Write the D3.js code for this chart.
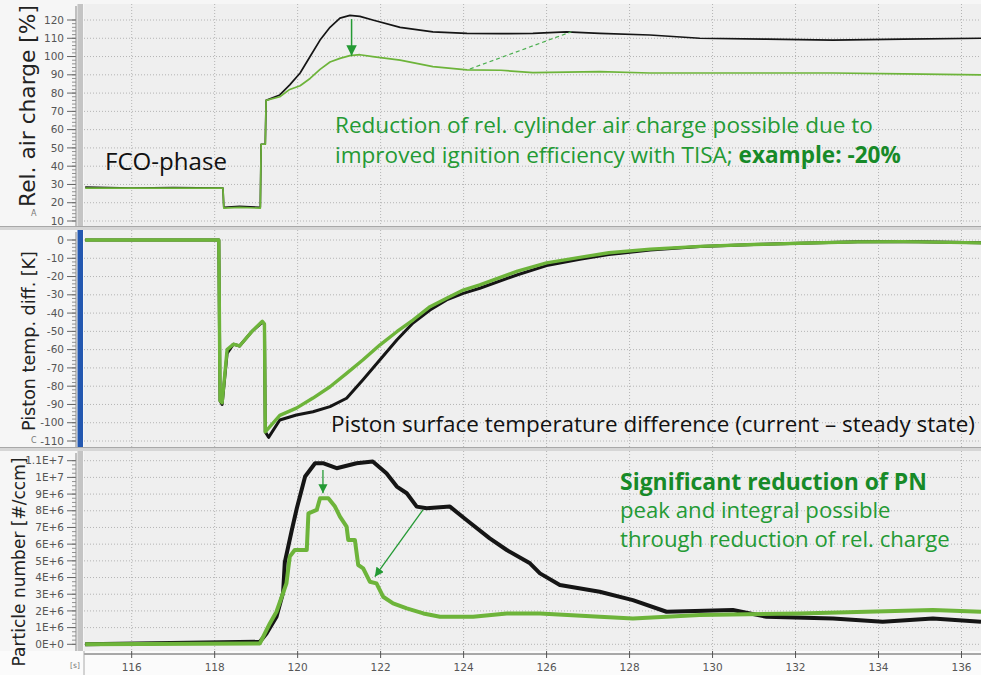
<!DOCTYPE html>
<html><head><meta charset="utf-8">
<script src="https://cdn.jsdelivr.net/npm/d3@7"></script>
<style>body{margin:0;background:#fff}svg{display:block}</style>
</head><body>
<svg width="981" height="675"></svg>
<script>
// time axis [s]
const xTicks = [116,118,120,122,124,126,128,130,132,134,136];

// rel. air charge [%] - baseline (black) and TISA (green)
const chargeTime = [114.88,116,117,118.2,118.22,118.6,119.1,119.12,119.22,119.24,119.57,119.81,120.06,120.3,120.54,120.78,121.02,121.26,121.5,121.81,122.47,123.26,124.08,124.9,125.67,126.48,127.28,128.49,129.69,131.3,132.9,134.6,136.47];
const chargeBase = [28.5,28,28.3,28,17.5,18,17.5,52,52,76,79,84.5,91,100,109,116,121,122.5,122,120,116,113.5,112.7,112.5,112.7,113.5,112.7,111.8,110,109.5,109,109.5,110];
const chargeTisa = [28,28,28,28,17,17.5,17,52,52,76,78,82,84,88,93,97,99,100.5,101,100,98,94.5,92.7,92.5,91.2,91.5,91.8,91,91,91,91,90.5,90];
const chargeTicks = [10,20,30,40,50,60,70,80,90,100,110,120];

// piston surface temperature difference [K]
const pistonTime = [114.88,118.1,118.13,118.18,118.3,118.45,118.6,118.9,119.15,119.2,119.22,119.3,119.57,119.97,120.37,120.78,121.18,121.57,121.98,122.39,122.78,123.19,123.59,123.99,124.39,125.3,126,126.8,127.5,128.5,129.7,131,132.1,133.5,134.6,136.47];
const pistonBase = [0,0,-88,-90,-62,-57,-58,-50,-45,-46,-105,-108,-98.5,-95.8,-94,-91.2,-86.6,-76.6,-65.7,-54.7,-45.4,-38.3,-32.8,-29.2,-26.4,-19,-14,-10.5,-8,-5.5,-3.5,-2.5,-1.8,-1,-0.8,-1.5];
const pistonTisa = [0,0,-88,-89,-60,-57,-58,-50,-44.5,-46,-105,-103,-96,-92,-86.5,-80.3,-73,-65.7,-57.5,-50.2,-43.8,-36.5,-31.9,-27.4,-24.6,-17,-12.5,-9.5,-7,-5,-3.5,-2.5,-1.8,-1,-0.9,-1.6];
const pistonTicks = [0,-10,-20,-30,-40,-50,-60,-70,-80,-90,-100,-110];

// particle number [#/ccm]
const pnBaseTime = [114.88,119.09,119.25,119.49,119.65,119.69,119.86,119.98,120.18,120.42,120.61,120.94,121.42,121.81,122.14,122.39,122.63,122.87,123.11,123.67,124.07,124.63,125.04,125.6,125.84,126.32,127.28,128.08,128.89,130.49,131.3,132.9,134.1,135.31,136.47];
const pnBase = [0,0.15e6,0.65e6,1.65e6,3.1e6,4.9e6,6.85e6,8.15e6,10.05e6,10.85e6,10.85e6,10.55e6,10.85e6,10.95e6,10.25e6,9.45e6,9.05e6,8.25e6,8.15e6,8.25e6,7.45e6,6.35e6,5.65e6,4.85e6,4.25e6,3.55e6,3.15e6,2.65e6,1.95e6,2.05e6,1.65e6,1.55e6,1.35e6,1.55e6,1.35e6];
const pnTisaTime = [114.88,119.09,119.33,119.49,119.73,119.81,119.93,120.22,120.26,120.46,120.54,120.74,120.9,121.02,121.18,121.22,121.38,121.46,121.58,121.74,121.9,122.06,122.3,122.63,123.03,123.43,124.23,125.04,125.84,127.28,128.08,129.69,132.1,133.71,135.31,136.47];
const pnTisa = [0,0.05e6,1.25e6,1.95e6,3.65e6,5.25e6,5.65e6,5.65e6,7.85e6,8.05e6,8.75e6,8.75e6,8.25e6,7.65e6,7.05e6,6.25e6,6.25e6,4.75e6,4.55e6,3.75e6,3.65e6,2.85e6,2.45e6,2.15e6,1.85e6,1.65e6,1.65e6,1.85e6,1.85e6,1.65e6,1.55e6,1.75e6,1.85e6,1.95e6,2.05e6,1.95e6];
const pnTicks = [0,1e6,2e6,3e6,4e6,5e6,6e6,7e6,8e6,9e6,1e7,1.1e7];
const pnTickLabels = ["0E+0","1E+6","2E+6","3E+6","4E+6","5E+6","6E+6","7E+6","8E+6","9E+6","1E+7","1.1E+7"];

const svg = d3.select("svg");
const BLACK = "#151515", LIME = "#6db43a", GREEN = "#249a34", DKGREEN = "#178a28";
const axisFont = "DejaVu Sans", noteFont = "Open Sans";

const x = d3.scaleLinear().domain([114.875,136.47]).range([85,981]);

const panels = [
  {top:4, bottom:226, y:d3.scaleLinear().domain([10,120]).range([221,20]),
   ticks:chargeTicks, labels:chargeTicks.map(String), minor:2,
   bar:"#c4c4c4", title:"Rel. air charge [%]", tx:27, ty:106, tlen:202, tag:"A", tagY:216,
   series:[{t:chargeTime,v:chargeBase,c:BLACK,w:1.7},{t:chargeTime,v:chargeTisa,c:LIME,w:1.7}]},
  {top:230, bottom:447, y:d3.scaleLinear().domain([-110,0]).range([441,240]),
   ticks:pistonTicks, labels:pistonTicks.map(String), minor:2,
   bar:"#2458b0", title:"Piston temp. diff. [K]", tx:29, ty:341, tlen:180, tag:"C", tagY:443,
   series:[{t:pistonTime,v:pistonBase,c:BLACK,w:3},{t:pistonTime,v:pistonTisa,c:LIME,w:3.4}]},
  {top:451, bottom:651, y:d3.scaleLinear().domain([0,1.1e7]).range([644.3,460.7]),
   ticks:pnTicks, labels:pnTickLabels, minor:0.25e6,
   bar:"#c4c4c4", title:"Particle number [#/ccm]", tx:19, ty:562, tlen:209,
   series:[{t:pnBaseTime,v:pnBase,c:BLACK,w:4},{t:pnTisaTime,v:pnTisa,c:LIME,w:4}]}
];

svg.append("rect").attr("width",981).attr("height",675).attr("fill","#f6f6f6");
svg.append("rect").attr("x",0).attr("y",651).attr("width",981).attr("height",24).attr("fill","#fbfbfb");

function fit(sel, width){
  const len = sel.node().getComputedTextLength();
  sel.attr("font-size", parseFloat(sel.attr("font-size")) * width / len);
  return sel;
}

const titles = svg.append("g");

panels.forEach((p,i) => {
  const g = svg.append("g");
  const h = p.bottom - p.top;
  g.append("rect").attr("x",84).attr("y",p.top).attr("width",897).attr("height",h).attr("fill","#efefef");
  g.append("clipPath").attr("id","clip"+i)
    .append("rect").attr("x",84).attr("y",p.top).attr("width",897).attr("height",h);

  // grid
  g.selectAll(".hg").data(p.ticks).enter().append("line")
    .attr("x1",84).attr("x2",981).attr("y1",d=>p.y(d)).attr("y2",d=>p.y(d))
    .attr("stroke","#b4b4b4").attr("stroke-dasharray","1,2");
  g.selectAll(".vg").data(xTicks).enter().append("line")
    .attr("x1",d=>x(d)).attr("x2",d=>x(d)).attr("y1",p.top).attr("y2",p.bottom)
    .attr("stroke","#b4b4b4").attr("stroke-dasharray","1,2");

  // left axis
  const [lo,hi] = d3.extent(p.ticks);
  const minors = d3.range(lo, hi + p.minor/2, p.minor).filter(v => p.y(v) > p.top+2 && p.y(v) < p.bottom);
  g.selectAll(".mt").data(minors).enter().append("line")
    .attr("x1",72).attr("x2",76).attr("y1",d=>p.y(d)).attr("y2",d=>p.y(d))
    .attr("stroke","#777").attr("stroke-width",0.8);
  g.selectAll(".Mt").data(p.ticks).enter().append("line")
    .attr("x1",67).attr("x2",76).attr("y1",d=>p.y(d)).attr("y2",d=>p.y(d))
    .attr("stroke","#666").attr("stroke-width",1);
  g.append("line").attr("x1",76).attr("x2",76).attr("y1",p.top+2).attr("y2",p.bottom).attr("stroke","#888");
  g.selectAll(".tl").data(p.ticks).enter().append("text")
    .attr("x",64).attr("y",d=>p.y(d)).attr("dy","0.35em").attr("text-anchor","end")
    .attr("font-family",axisFont).attr("font-size",10.5).attr("fill","#555")
    .text((d,j)=>p.labels[j]);
  g.append("rect").attr("x",77.5).attr("y",p.top).attr("width",5.5).attr("height",h).attr("fill",p.bar);

  if (p.tag) g.append("text").attr("x",31).attr("y",p.tagY).attr("font-family",axisFont)
    .attr("font-size",8).attr("fill","#777").text(p.tag);

  // series
  const lines = g.append("g").attr("clip-path",`url(#clip${i})`);
  p.series.forEach(s => {
    const line = d3.line().x(d=>x(s.t[d])).y(d=>p.y(s.v[d]));
    lines.append("path").attr("d", line(d3.range(s.t.length)))
      .attr("fill","none").attr("stroke",s.c).attr("stroke-width",s.w)
      .attr("stroke-linejoin","round");
  });
  p.g = g; p.lines = lines;
});

// panel separators
[[226,230],[447,451]].forEach(([a,b]) => {
  svg.append("rect").attr("x",0).attr("y",a).attr("width",981).attr("height",b-a).attr("fill","#d6d6d6");
  svg.append("line").attr("x1",0).attr("x2",981).attr("y1",a+0.5).attr("y2",a+0.5).attr("stroke","#a8a8a8");
});

// axis titles on top of everything
panels.forEach(p => {
  const title = svg.append("text")
    .attr("transform",`translate(${p.tx},${p.ty}) rotate(-90)`)
    .attr("text-anchor","middle").attr("dy","0.35em")
    .attr("font-family",axisFont).attr("font-size",17).attr("fill","#222")
    .text(p.title);
  fit(title, p.tlen);
});

// time axis
const xg = svg.append("g");
xg.append("line").attr("x1",84).attr("x2",981).attr("y1",654).attr("y2",654).attr("stroke","#555");
xg.append("line").attr("x1",84).attr("x2",84).attr("y1",651).attr("y2",675).attr("stroke","#aaa");
xg.selectAll(".xt").data(xTicks).enter().append("line")
  .attr("x1",d=>x(d)).attr("x2",d=>x(d)).attr("y1",651).attr("y2",658).attr("stroke","#555");
xg.selectAll(".xl").data(xTicks).enter().append("text")
  .attr("x",d=>x(d)).attr("y",671).attr("text-anchor","middle")
  .attr("font-family",axisFont).attr("font-size",10.5).attr("fill","#555").text(d=>d);
xg.append("text").attr("x",75).attr("y",668).attr("font-family",axisFont).attr("font-size",7.5)
  .attr("fill","#777").attr("text-anchor","middle").text("[s]");

// arrow marker
const defs = svg.append("defs");
defs.append("marker").attr("id","arr").attr("viewBox","0 0 10 10").attr("refX",10).attr("refY",5)
  .attr("markerWidth",7).attr("markerHeight",7).attr("orient","auto-start-reverse")
  .append("path").attr("d","M0,0L10,5L0,10Z").attr("fill",GREEN);

// top panel annotations
const pTop = panels[0], pMid = panels[1], pBot = panels[2];
pTop.lines.append("line").attr("x1",x(124.15)).attr("y1",pTop.y(93.2))
  .attr("x2",x(126.6)).attr("y2",pTop.y(113.6))
  .attr("stroke","#4caf50").attr("stroke-width",1.2).attr("stroke-dasharray","4,3");
pTop.g.append("line").attr("x1",x(121.3)).attr("y1",pTop.y(120.5))
  .attr("x2",x(121.3)).attr("y2",pTop.y(100.5))
  .attr("stroke",GREEN).attr("stroke-width",1.5).attr("marker-end","url(#arr)");

const n1 = pTop.g.append("text").attr("x",335).attr("y",133)
  .attr("font-family",noteFont).attr("font-size",20).attr("fill",GREEN)
  .text("Reduction of rel. cylinder air charge possible due to");
fit(n1, 538);
const fs1 = n1.attr("font-size");
const n2 = pTop.g.append("text").attr("x",335).attr("y",163)
  .attr("font-family",noteFont).attr("font-size",fs1).attr("fill",GREEN);
n2.append("tspan").text("improved ignition efficiency with TISA; ");
n2.append("tspan").attr("font-weight","bold").attr("fill",DKGREEN).text("example: -20%");

const fco = pTop.g.append("text").attr("x",105).attr("y",170)
  .attr("font-family",noteFont).attr("font-size",20).attr("fill","#111").text("FCO-phase");
fit(fco, 122);

// middle panel annotation
const n3 = pMid.g.append("text").attr("x",331).attr("y",432)
  .attr("font-family",noteFont).attr("font-size",20).attr("fill","#111")
  .text("Piston surface temperature difference (current \u2013 steady state)");
fit(n3, 644);

// bottom panel annotations
pBot.g.append("line").attr("x1",x(120.61)).attr("y1",pBot.y(10.45e6))
  .attr("x2",x(120.61)).attr("y2",pBot.y(9.05e6))
  .attr("stroke",GREEN).attr("stroke-width",1.3).attr("marker-end","url(#arr)");
pBot.g.append("line").attr("x1",x(123.02)).attr("y1",pBot.y(8.05e6))
  .attr("x2",x(121.86)).attr("y2",pBot.y(4.05e6))
  .attr("stroke",GREEN).attr("stroke-width",1.3).attr("marker-end","url(#arr)");

const b1 = pBot.g.append("text").attr("x",620).attr("y",490)
  .attr("font-family",noteFont).attr("font-weight","bold").attr("font-size",19)
  .attr("fill",DKGREEN).text("Significant reduction of PN");
fit(b1, 307);
const b3 = pBot.g.append("text").attr("x",620).attr("y",547)
  .attr("font-family",noteFont).attr("font-size",19).attr("fill",GREEN)
  .text("through reduction of rel. charge");
fit(b3, 330);
pBot.g.append("text").attr("x",620).attr("y",518)
  .attr("font-family",noteFont).attr("font-size",b3.attr("font-size")).attr("fill",GREEN)
  .text("peak and integral possible");
</script>
</body></html>
